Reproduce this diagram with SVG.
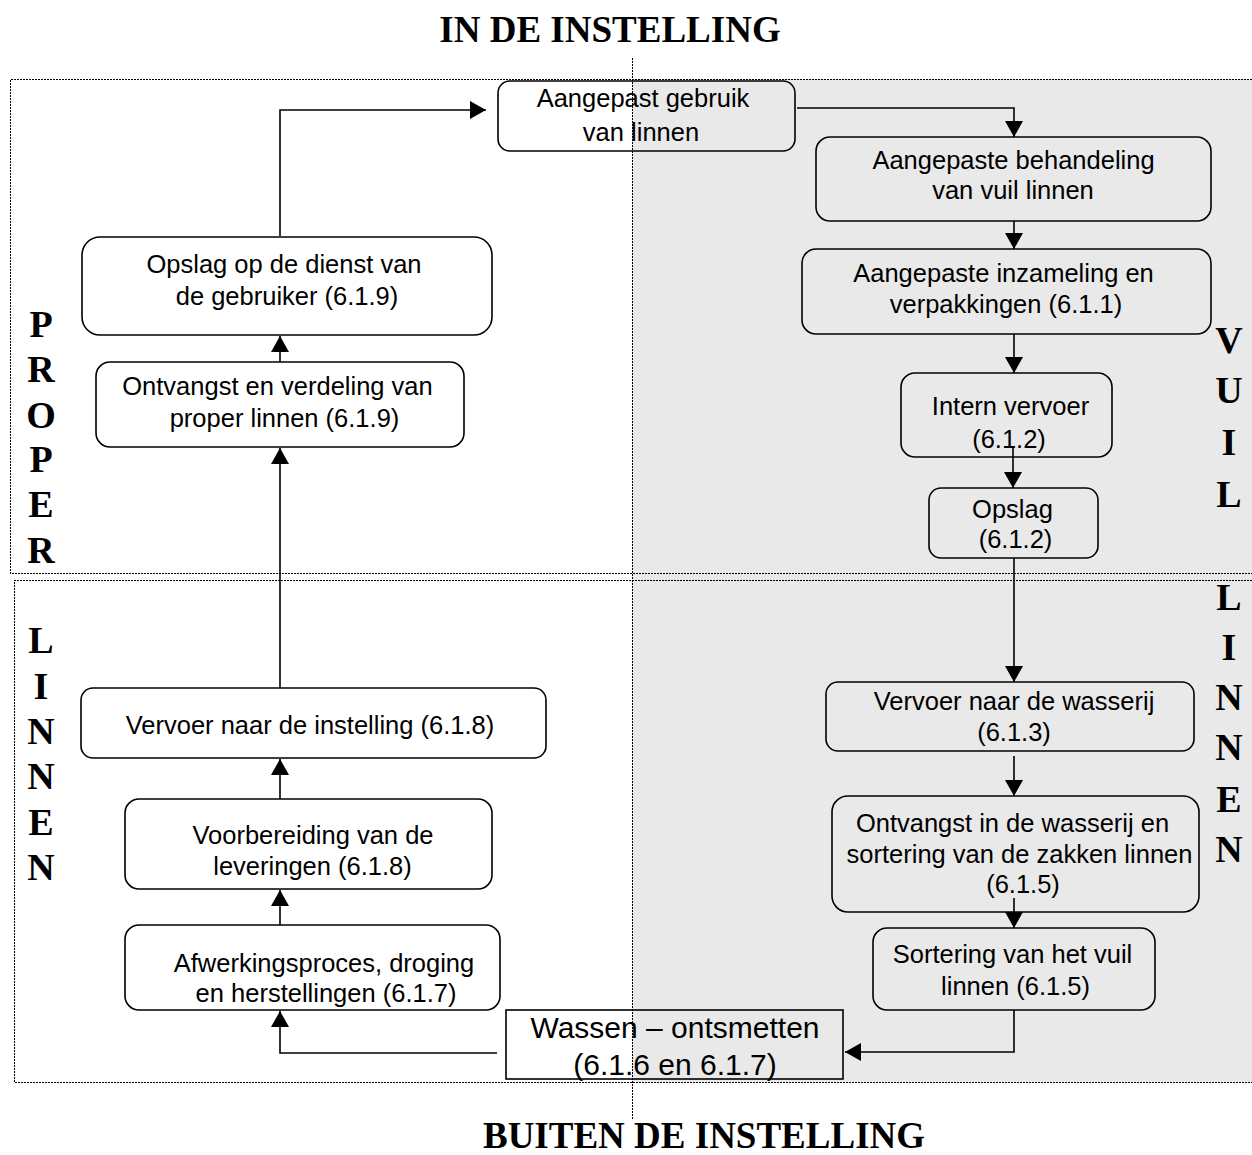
<svg xmlns="http://www.w3.org/2000/svg" width="1252" height="1155" viewBox="0 0 1252 1155">
<defs>
<style>
.box{fill:none;stroke:#000;stroke-width:1.6}
.t{font-family:"Liberation Sans",Arial,sans-serif;font-size:25.5px;fill:#000;text-anchor:middle}
.tw{font-family:"Liberation Sans",Arial,sans-serif;font-size:30px;fill:#000;text-anchor:middle}
.big{font-family:"Liberation Serif","Times New Roman",serif;font-weight:bold;font-size:37px;fill:#000;text-anchor:middle}
.vl{font-family:"Liberation Serif","Times New Roman",serif;font-weight:bold;font-size:38px;fill:#000;text-anchor:middle}
.dot{fill:none;stroke:#000;stroke-width:1.5;stroke-dasharray:2 1;shape-rendering:crispEdges}
.con{fill:none;stroke:#000;stroke-width:1.6}
</style>
<marker id="ah" markerWidth="16" markerHeight="18" refX="16" refY="9" orient="auto" markerUnits="userSpaceOnUse">
<path d="M0,0 L16,9 L0,18 z" fill="#000"/>
</marker>
</defs>
<rect width="1252" height="1155" fill="#fff"/>
<rect x="632" y="79" width="620" height="1003" fill="#e9e9e9"/>

<g id="titles">
<text class="big" x="610" y="42">IN DE INSTELLING</text>
<text class="big" x="704" y="1148">BUITEN DE INSTELLING</text>
</g>

<g id="zones">
<path class="dot" d="M1252,79.5 H10.5 V573.5 H1252"/>
<path class="dot" d="M1252,580.5 H14.5 V1082.5 H1252"/>
</g>

<g id="side-labels">
<text class="vl" x="41" y="337">P</text>
<text class="vl" x="41" y="382">R</text>
<text class="vl" x="41" y="428">O</text>
<text class="vl" x="41" y="472">P</text>
<text class="vl" x="41" y="517">E</text>
<text class="vl" x="41" y="563">R</text>
<text class="vl" x="41" y="653">L</text>
<text class="vl" x="41" y="699">I</text>
<text class="vl" x="41" y="744">N</text>
<text class="vl" x="41" y="789">N</text>
<text class="vl" x="41" y="835">E</text>
<text class="vl" x="41" y="880">N</text>
<text class="vl" x="1229" y="353">V</text>
<text class="vl" x="1229" y="403">U</text>
<text class="vl" x="1229" y="455">I</text>
<text class="vl" x="1229" y="507">L</text>
<text class="vl" x="1229" y="610">L</text>
<text class="vl" x="1229" y="660">I</text>
<text class="vl" x="1229" y="710">N</text>
<text class="vl" x="1229" y="760">N</text>
<text class="vl" x="1229" y="812">E</text>
<text class="vl" x="1229" y="862">N</text>
</g>

<g id="n-gebruik">
<rect class="box" x="498" y="81" width="297" height="70" rx="12"/>
<text class="t" x="643" y="107">Aangepast gebruik</text>
<text class="t" x="641" y="141">van linnen</text>
</g>
<g id="n-behandeling">
<rect class="box" x="816" y="137" width="395" height="84" rx="14"/>
<text class="t" x="1013.5" y="169">Aangepaste behandeling</text>
<text class="t" x="1013" y="199">van vuil linnen</text>
</g>
<g id="n-inzameling">
<rect class="box" x="802" y="249" width="409" height="85" rx="14"/>
<text class="t" x="1003.5" y="282">Aangepaste inzameling en</text>
<text class="t" x="1006" y="313">verpakkingen (6.1.1)</text>
</g>
<g id="n-intern">
<rect class="box" x="901" y="373" width="211" height="84" rx="14"/>
<text class="t" x="1010.5" y="415">Intern vervoer</text>
<text class="t" x="1009" y="448">(6.1.2)</text>
</g>
<g id="n-opslag">
<rect class="box" x="929" y="488" width="169" height="70" rx="12"/>
<text class="t" x="1012.5" y="518">Opslag</text>
<text class="t" x="1015.5" y="548">(6.1.2)</text>
</g>
<g id="n-vervoer-wasserij">
<rect class="box" x="826" y="682" width="368" height="69" rx="12"/>
<text class="t" x="1014" y="710">Vervoer naar de wasserij</text>
<text class="t" x="1014" y="741">(6.1.3)</text>
</g>
<g id="n-ontvangst-wasserij">
<rect class="box" x="832" y="796" width="367" height="116" rx="16"/>
<text class="t" x="1012.5" y="832">Ontvangst in de wasserij en</text>
<text class="t" x="1019.5" y="863">sortering van de zakken linnen</text>
<text class="t" x="1023" y="893">(6.1.5)</text>
</g>
<g id="n-sortering">
<rect class="box" x="873" y="928" width="282" height="82" rx="14"/>
<text class="t" x="1012.5" y="963">Sortering van het vuil</text>
<text class="t" x="1015.5" y="995">linnen (6.1.5)</text>
</g>
<g id="n-wassen">
<rect class="box" x="506" y="1010" width="337" height="69"/>
<text class="tw" x="675" y="1038">Wassen – ontsmetten</text>
<text class="tw" x="675" y="1075">(6.1.6 en 6.1.7)</text>
</g>
<g id="n-afwerking">
<rect class="box" x="125" y="925" width="375" height="85" rx="14"/>
<text class="t" x="324" y="972">Afwerkingsproces, droging</text>
<text class="t" x="326" y="1002">en herstellingen (6.1.7)</text>
</g>
<g id="n-voorbereiding">
<rect class="box" x="125" y="799" width="367" height="90" rx="14"/>
<text class="t" x="313" y="844">Voorbereiding van de</text>
<text class="t" x="312.5" y="875">leveringen (6.1.8)</text>
</g>
<g id="n-vervoer-instelling">
<rect class="box" x="81" y="688" width="465" height="70" rx="12"/>
<text class="t" x="310" y="734">Vervoer naar de instelling (6.1.8)</text>
</g>
<g id="n-ontvangst">
<rect class="box" x="96" y="362" width="368" height="85" rx="14"/>
<text class="t" x="277.5" y="395">Ontvangst en verdeling van</text>
<text class="t" x="284.5" y="427">proper linnen (6.1.9)</text>
</g>
<g id="n-opslag-dienst">
<rect class="box" x="82" y="237" width="410" height="98" rx="18"/>
<text class="t" x="284" y="273">Opslag op de dienst van</text>
<text class="t" x="287" y="305">de gebruiker (6.1.9)</text>
</g>

<g id="connectors">
<path class="con" d="M280,236 V110 H486" marker-end="url(#ah)"/>
<path class="con" d="M797,108 H1014 V137" marker-end="url(#ah)"/>
<path class="con" d="M1014,221 V249" marker-end="url(#ah)"/>
<path class="con" d="M1014,334 V373" marker-end="url(#ah)"/>
<path class="con" d="M1013,447 V488" marker-end="url(#ah)"/>
<path class="con" d="M1014,558 V682" marker-end="url(#ah)"/>
<path class="con" d="M1014,756 V796" marker-end="url(#ah)"/>
<path class="con" d="M1014,898 V928" marker-end="url(#ah)"/>
<path class="con" d="M1014,1010 V1052 H845" marker-end="url(#ah)"/>
<path class="con" d="M497,1053 H280 V1011" marker-end="url(#ah)"/>
<path class="con" d="M280,925 V890" marker-end="url(#ah)"/>
<path class="con" d="M280,799 V759" marker-end="url(#ah)"/>
<path class="con" d="M280,688 V448" marker-end="url(#ah)"/>
<path class="con" d="M280,362 V336" marker-end="url(#ah)"/>
</g>

<g id="divider">
<path class="dot" d="M632.5,58 V1120"/>
</g>
</svg>
